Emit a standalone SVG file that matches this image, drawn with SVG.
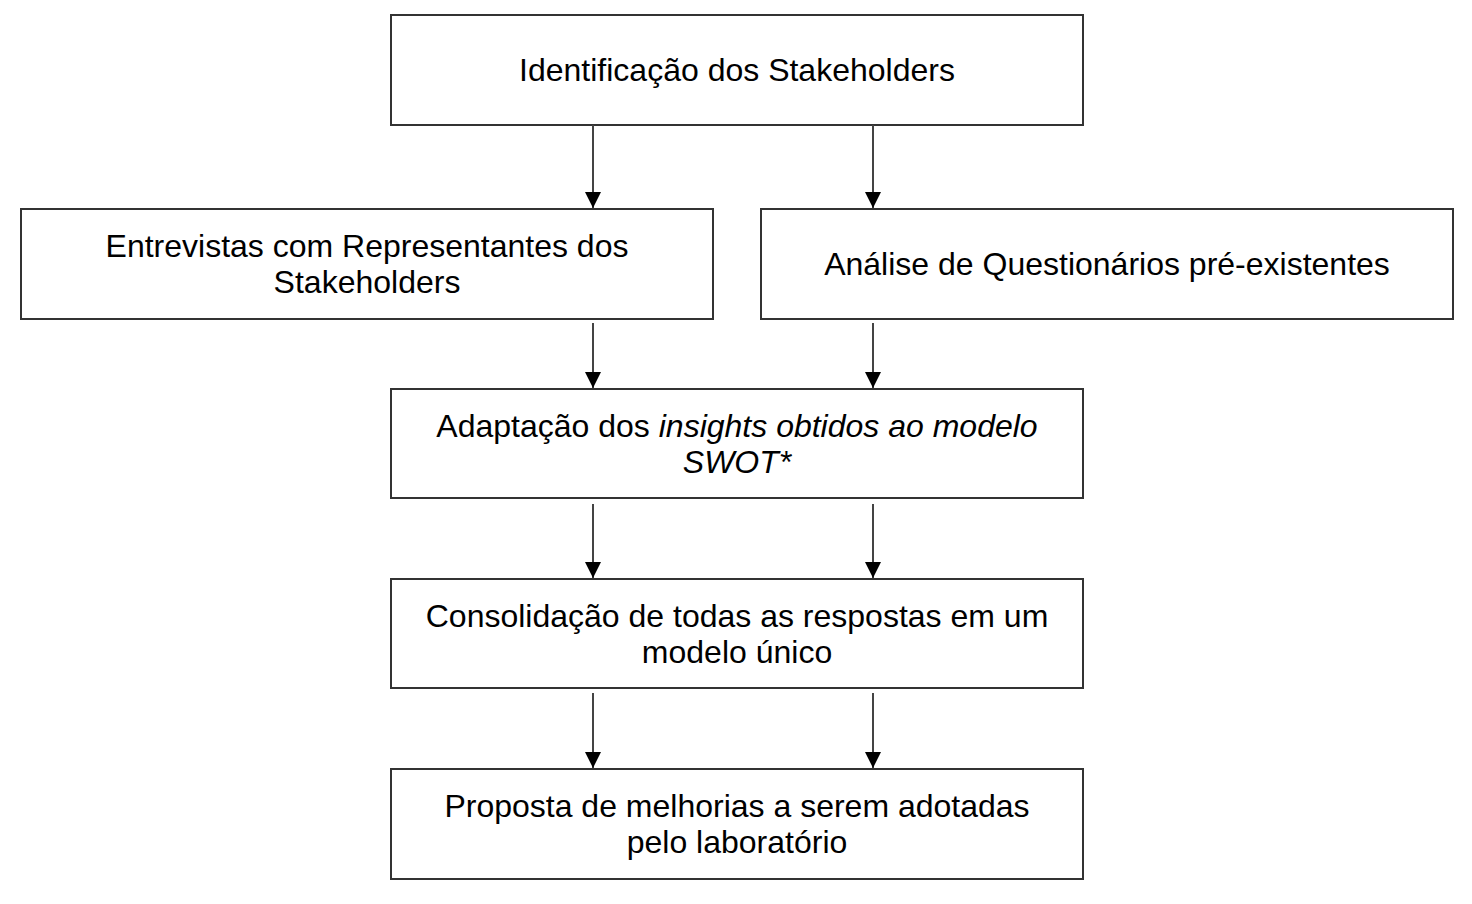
<svg xmlns="http://www.w3.org/2000/svg" width="1472" height="904" viewBox="0 0 1472 904">
<defs>
<marker id="ah" viewBox="0 0 10 10" refX="10" refY="5" markerWidth="16" markerHeight="17" orient="auto" markerUnits="userSpaceOnUse">
<path d="M0,0 L10,5 L0,10 z" fill="#000"/>
</marker>
<style>
.box{fill:#fff;stroke:#333;stroke-width:2}
.t{font-family:"Liberation Sans",Arial,sans-serif;font-size:32px;fill:#000;text-anchor:middle}
.c{stroke:#444;stroke-width:2;fill:none}
</style>
</defs>
<rect width="1472" height="904" fill="#fff"/>
<g id="n1"><rect class="box" x="391" y="15" width="692" height="110"/><text class="t" x="737" y="81">Identificação dos Stakeholders</text></g>
<g id="n2"><rect class="box" x="21" y="209" width="692" height="110"/><text class="t" x="367" y="257">Entrevistas com Representantes dos</text><text class="t" x="367" y="293">Stakeholders</text></g>
<g id="n3"><rect class="box" x="761" y="209" width="692" height="110"/><text class="t" x="1107" y="275">Análise de Questionários pré-existentes</text></g>
<g id="n4"><rect class="box" x="391" y="389" width="692" height="109"/><text class="t" x="737" y="437">Adaptação dos <tspan font-style="italic">insights obtidos ao modelo</tspan></text><text class="t" x="737" y="473" font-style="italic">SWOT*</text></g>
<g id="n5"><rect class="box" x="391" y="579" width="692" height="109"/><text class="t" x="737" y="627">Consolidação de todas as respostas em um</text><text class="t" x="737" y="663">modelo único</text></g>
<g id="n6"><rect class="box" x="391" y="769" width="692" height="110"/><text class="t" x="737" y="817">Proposta de melhorias a serem adotadas</text><text class="t" x="737" y="853">pelo laboratório</text></g>
<g id="connectors">
<line class="c" x1="593" y1="125" x2="593" y2="208" marker-end="url(#ah)"/>
<line class="c" x1="873" y1="125" x2="873" y2="208" marker-end="url(#ah)"/>
<line class="c" x1="593" y1="323" x2="593" y2="388" marker-end="url(#ah)"/>
<line class="c" x1="873" y1="323" x2="873" y2="388" marker-end="url(#ah)"/>
<line class="c" x1="593" y1="504" x2="593" y2="578" marker-end="url(#ah)"/>
<line class="c" x1="873" y1="504" x2="873" y2="578" marker-end="url(#ah)"/>
<line class="c" x1="593" y1="693" x2="593" y2="768" marker-end="url(#ah)"/>
<line class="c" x1="873" y1="693" x2="873" y2="768" marker-end="url(#ah)"/>
</g>
</svg>
